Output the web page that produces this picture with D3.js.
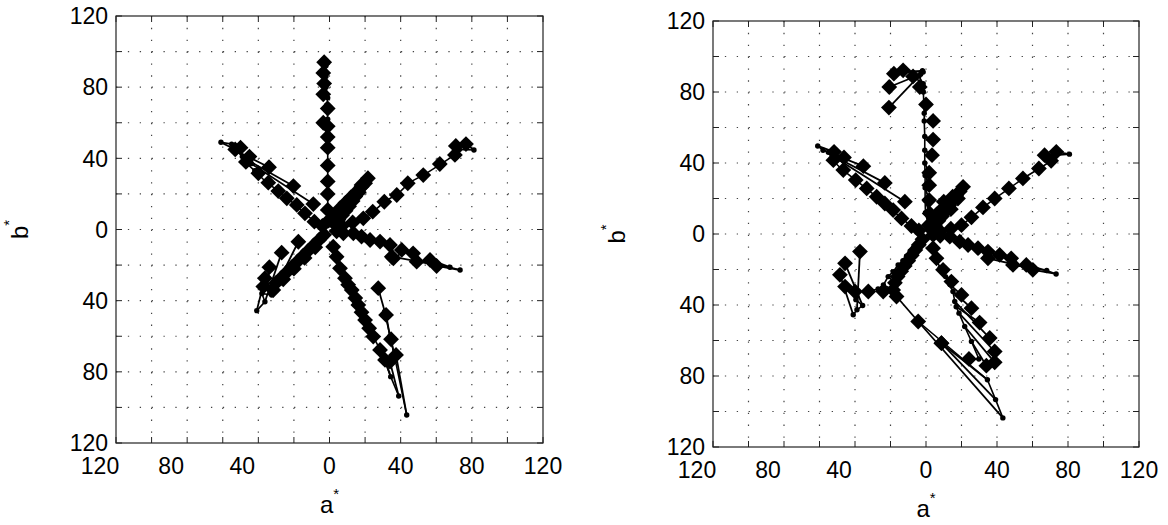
<!DOCTYPE html>
<html>
<head>
<meta charset="utf-8">
<script src="https://cdn.jsdelivr.net/npm/d3@7"></script>
<style>
body { margin: 0; background: #fff; }
text { font-family: "Liberation Sans", Arial, Helvetica, sans-serif; fill: #000; }
</style>
</head>
<body>
<svg id="svg" width="1168" height="525"></svg>
<script>
// tick values (labels shown without the minus sign, as in the original)
var labelTicks = [-120, -80, -40, 0, 40, 80, 120];
var gridTicks = [-100, -80, -60, -40, -20, 0, 20, 40, 60, 80, 100];
var minorTicks = [-120, -100, -80, -60, -40, -20, 0, 20, 40, 60, 80, 100, 120];

// each series: rows of [a* diamond, b* diamond, a* dot, b* dot], in chroma order
var leftSeries = [
  // yellow
  [[-0.5,5,-0.5,6],[-1,11,-1,12],[-1,20,-1,21],[-1,27,-1,28],[-1,36,-1,37],[-1,46,-1,47],[-1,52,-1,52],
   [-1,58,-1,56],[-3.5,60,-1,62],[-1,68,-1.5,70],[-3.5,76,-1,74],[-3,82,-2,80],[-3.5,88,-2,86],[-3,94,-2,92]],
  // green
  [[-4,2,-4.5,2.5],[-8.5,4.4,-9,5],[-13.8,9.1,-14.5,9.5],[-18.4,13.8,-19,14],[-24,17.5,-25,18],
   [-28.8,21.6,-30,22.5],[-34.4,26.3,-36,27],[-40,31.6,-42,33],[-47,38,-48,38.5],[-45,41,-49,41],
   [-50,46,-55,48],[-53,45,-61,49]],
  [[-9.1,14.3,-44,37],[-20.3,24.4,-46,39],[-34,35,-52,44]],
  // red
  [[7,2,7.5,2.2],[13,4,13.5,4.2],[19,6.3,19.5,6.6],[24.3,10,25,10.5],[30.8,15.6,31.5,16],[37.8,19.4,38.5,20],
   [44,26,45,26.5],[52.7,30.6,53.5,31],[62,36.8,63,37],[70.5,41.9,72,43],[71,47,73,45],[76.7,48,81.2,44.7]],
  // orange
  [[3,3,3,3],[5,5.5,4.5,5],[7,8,6.5,7.5],[9,10.5,8.5,10],[11,13,10.5,12.5],[13,16,12.5,15.5],[14.5,18.5,14,18],
   [16.5,21,16,20.5],[18,24,17.5,23.5],[20,26,19.5,25.5],[21.6,28.8,21,28]],
  [[4,8,4,7.5],[6,12,6,11.5],[9,15,9,14.5],[12,18,12,17.5],[15,21,15,20.5],[18,25,18,24.5]],
  // magenta
  [[4,-1,4,-1],[7.8,-2.1,8.2,-2],[13.4,-2.1,14,-2.3],[18,-4,18.5,-4.2],[22.8,-5.9,23.5,-6],[28.4,-6.8,29,-7],
   [34,-8.7,35,-9],[35.9,-16.2,36.5,-16.5],[40.6,-11.5,41.5,-12],[47,-13.4,48,-14],[49,-18.1,50,-18],
   [35,-15.3,58,-19.5],[56.5,-17.1,67.7,-21.2],[60.2,-20.5,73.4,-22.8]],
  // purple
  [[2.1,-9.7,2.3,-10],[4,-15.3,4.2,-15.6],[5.9,-21.8,6.2,-22],[8.7,-27.4,9,-28],[10.5,-31,10.8,-31.3],
   [12.5,-34,12.8,-34.5],[14.5,-38.5,14.8,-39],[16.2,-42.4,16.5,-43],[18,-46.5,18.3,-47],[20,-50.9,20.4,-51.5],
   [22.3,-55.5,22.6,-56],[24.6,-60.2,25,-61],[28.4,-67.7,29,-68.5],[31.2,-73.3,34.4,-82.7],[34,-74.3,38.9,-93.6]],
  [[27.4,-33,31,-46],[31.8,-48,34,-60],[34.6,-61.7,36.5,-71],[37.4,-70.5,43.4,-104.3]],
  // blue
  [[-3,-3,-3,-3.2],[-6,-6,-6,-6.3],[-8,-10,-8,-10],[-9,-9,-9,-9.3],[-12,-12,-12,-12.3],[-14,-16,-14,-16],
   [-15,-15,-15,-15.3],[-18,-18,-18,-18.3],[-20,-22,-20,-22],[-21,-21,-21,-21.3],[-24,-24,-24,-24.3],
   [-26,-28,-26,-28],[-27,-27,-27,-27.5],[-30,-30,-30,-30.5],[-31.6,-34,-33,-36]],
  [[-33.8,-21.2,-35,-31],[-17.5,-6.9,-32.5,-36.8],[-37.2,-32.1,-38,-36],[-26.9,-13,-36.3,-40.6],
   [-36.3,-27.4,-40.9,-45.6]]
];

var rightSeries = [
  // yellow with hook
  [[1.5,5,-0.3,12],[2.1,11.6,-0.5,19],[1.8,19.1,-0.5,26],[1.8,27.5,-0.5,33],[1.8,34.5,-0.7,40],
   [3.4,44.4,-0.7,47.2],[4,53.2,-0.7,55],[4,63.7,-1,63.7],[0,73,-1,68],[-3.5,82.8,-1.5,80],
   [-7.3,88.8,-1.6,84.7],[-20.9,71.2,-4,89],[-20.7,82.8,-3,90],[-12.9,92.2,-1.6,91.2],[-18.1,90.3,-2,92]],
  // green
  [[-4,2,-4.2,2.2],[-8.2,4.5,-8.5,4.8],[-13.8,8.8,-14.2,9],[-18.5,13.5,-19,13.8],[-23.2,17.2,-23.8,17.5],
   [-27.8,21,-28.5,21.5],[-33.4,25.7,-34,26],[-39.6,30.4,-40.5,31],[-46.6,36,-47.5,36.5],[-52.2,41.6,-53,42]],
  [[-11.9,18.2,-51,43],[-23.2,28.8,-53,44.5],[-35.3,38.2,-55,46],[-46.2,43.1,-58,47.2],[-51.8,46.3,-61,49.6]],
  // red
  [[8,1.5,8.3,1.6],[14,3,14.3,3.1],[20,5,20.4,5.2],[25.6,9.4,26,9.7],[32.1,15,32.6,15.3],[38.7,20,39.3,20.4],
   [46.7,25.7,47.3,26],[54.6,31.3,55.3,31.7],[63.6,36.9,64.5,37.3],[70.5,41.2,71,41.5],[66.8,44.4,68,44],
   [73.4,46.3,80.8,45]],
  // orange
  [[3,2.5,3,2.5],[5,5,4.5,4.5],[7,7.5,6.5,7],[9,10,8.5,9.5],[11,13,10.5,12.5],[13,16,12.5,15.5],[15,19,14.5,18.5],
   [17,21.5,16.5,21],[19,24,18.5,23.5],[20.9,26.6,20.5,26]],
  [[4,7,4,6.5],[6,11,6,10.5],[9,14,9,13.5],[10,18.2,9.5,17.5],[14,14,13.5,13.5],[12,17,12,16.5],[15,21,15,20.5],
   [18,20,17.5,19.5]],
  // magenta
  [[4,-0.5,4.2,-0.6],[8,-1,8.3,-1.1],[13.4,-1.5,13.8,-1.6],[19,-4.3,19.4,-4.5],[23.7,-6.2,24.2,-6.4],
   [29.3,-8,29.8,-8.2],[34.9,-9.9,35.5,-10.2],[41.5,-11.8,42.3,-12.1],[48,-13.7,49,-14],[49,-17.4,50,-17.6],
   [34.9,-13.7,58,-19],[56.5,-17.4,68,-20.6],[60.2,-20.2,73.3,-22.5]],
  // purple
  [[4,-8,3.5,-7.5],[5.9,-13.7,5,-13],[9.6,-20.2,8,-19],[14.3,-26.8,11,-24],[20,-34.3,13.5,-28.5],
   [25.6,-41.8,15.2,-32.4],[35.9,-58.6,16.2,-38],[30.2,-49.9,17,-41],[38.7,-66.2,18.6,-44.6],
   [38.7,-72.3,21.8,-52.1],[34,-74.2,25.6,-60.5],[24.2,-70.4,29.8,-70.4]],
  [[-16.6,-35.2,-4.4,-49.3],[8.7,-61.5,34.6,-82.1],[8.7,-61.5,39.2,-93.3],[-4.4,-49.3,43.3,-103.6]],
  // blue
  [[-2,-3,-2.5,-2.5],[-4,-6,-4.5,-5],[-6,-9,-7,-7.5],[-8,-12,-9,-10],[-10,-15,-11,-12.5],[-12,-18,-13,-15],
   [-14,-21,-15.7,-17.4],[-16,-24,-18.5,-21.2],[-17.5,-27.5,-21.3,-24],[-18.5,-31.5,-24,-28.7],
   [-24.1,-32.4,-27,-31],[-32.5,-32.4,-31,-32]],
  [[-45.6,-29.6,-39,-35],[-40,-32.4,-39.5,-37],[-45.6,-16.5,-35.7,-40.3],[-37.2,-9.9,-38.9,-42.7],
   [-48.5,-23,-41,-45.5]]
];

var svg = d3.select("#svg");

function drawPanel(series, left, top, size) {
  var x = d3.scaleLinear().domain([-120, 120]).range([left, left + size]);
  var y = d3.scaleLinear().domain([-120, 120]).range([top + size, top]);
  var g = svg.append("g");

  // dotted grid
  g.selectAll(".gx").data(gridTicks).enter().append("line")
    .attr("x1", function(d) { return x(d); }).attr("x2", function(d) { return x(d); })
    .attr("y1", top).attr("y2", top + size)
    .attr("stroke", "#444").attr("stroke-width", 1.2).attr("stroke-dasharray", "1.3,10.57");
  g.selectAll(".gy").data(gridTicks).enter().append("line")
    .attr("y1", function(d) { return y(d); }).attr("y2", function(d) { return y(d); })
    .attr("x1", left).attr("x2", left + size)
    .attr("stroke", "#444").attr("stroke-width", 1.2).attr("stroke-dasharray", "1.3,10.57");

  // inward ticks on all four sides
  var tk = 6;
  minorTicks.forEach(function(t) {
    g.append("line").attr("class", "tk").attr("x1", x(t)).attr("x2", x(t)).attr("y1", top + size).attr("y2", top + size - tk);
    g.append("line").attr("class", "tk").attr("x1", x(t)).attr("x2", x(t)).attr("y1", top).attr("y2", top + tk);
    g.append("line").attr("class", "tk").attr("y1", y(t)).attr("y2", y(t)).attr("x1", left).attr("x2", left + tk);
    g.append("line").attr("class", "tk").attr("y1", y(t)).attr("y2", y(t)).attr("x1", left + size).attr("x2", left + size - tk);
  });
  g.selectAll(".tk").attr("stroke", "#222").attr("stroke-width", 1);

  // frame
  g.append("rect").attr("x", left).attr("y", top).attr("width", size).attr("height", size)
    .attr("fill", "none").attr("stroke", "#222").attr("stroke-width", 1.2);

  // tick labels
  g.selectAll(".ly").data(labelTicks).enter().append("text")
    .attr("x", left - 8).attr("y", function(d) { return y(d); }).attr("dy", "0.36em")
    .attr("text-anchor", "end").attr("font-size", 23)
    .text(function(d) { return Math.abs(d); });
  g.selectAll(".lx").data(labelTicks).enter().append("text")
    .attr("x", function(d) { return x(d) + (d < 0 ? -16 : 0); }).attr("y", top + size + 31)
    .attr("text-anchor", "middle").attr("font-size", 23)
    .text(function(d) { return Math.abs(d); });

  // axis titles
  var xt = g.append("text").attr("x", x(0)).attr("y", top + size + 70)
    .attr("text-anchor", "middle").attr("font-size", 24);
  xt.append("tspan").text("a");
  xt.append("tspan").attr("font-size", 15).attr("dy", -14).text("*");

  var yt = g.append("text").attr("transform", "translate(" + (left - 88) + "," + y(0) + ") rotate(-90)")
    .attr("text-anchor", "middle").attr("font-size", 24);
  yt.append("tspan").text("b");
  yt.append("tspan").attr("font-size", 15).attr("dy", -14).text("*");

  var pairs = [].concat.apply([], series);

  // predicted chain per series
  var chain = d3.line().x(function(d) { return x(d[2]); }).y(function(d) { return y(d[3]); });
  g.selectAll(".chain").data(series).enter().append("path")
    .attr("d", chain).attr("fill", "none").attr("stroke", "#000").attr("stroke-width", 1.6);

  // measured -> predicted segments, dots, diamonds
  g.selectAll(".seg").data(pairs).enter().append("line")
    .attr("x1", function(d) { return x(d[0]); }).attr("y1", function(d) { return y(d[1]); })
    .attr("x2", function(d) { return x(d[2]); }).attr("y2", function(d) { return y(d[3]); })
    .attr("stroke", "#000").attr("stroke-width", 1.8);
  g.selectAll(".dot").data(pairs).enter().append("circle")
    .attr("cx", function(d) { return x(d[2]); }).attr("cy", function(d) { return y(d[3]); })
    .attr("r", 2.7).attr("fill", "#000");
  var diamond = d3.symbol().type(d3.symbolSquare).size(125);
  g.selectAll(".dia").data(pairs).enter().append("path")
    .attr("d", diamond)
    .attr("transform", function(d) { return "translate(" + x(d[0]) + "," + y(d[1]) + ") rotate(45)"; })
    .attr("fill", "#000");
}

drawPanel(leftSeries, 116, 16, 427);
drawPanel(rightSeries, 713, 21, 426);
</script>
</body>
</html>
